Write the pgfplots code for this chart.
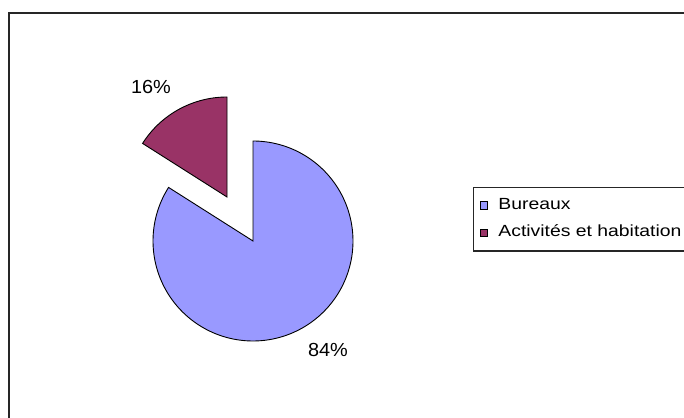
\documentclass[border=0pt]{standalone}
\usepackage{pgfplots}
\pgfplotsset{compat=1.18}
\usepackage{fontspec}
\setmainfont{Liberation Sans}
\definecolor{slicebureaux}{RGB}{153,153,255}
\definecolor{sliceactiv}{RGB}{153,51,102}
\pgfplotsset{sq legend/.style={legend image code/.code={\draw[##1, line width=0.8bp] (0bp,-3.75bp) rectangle (7.5bp,3.75bp);}}}
% data (percent)
\def\valBureaux{84}
\def\valActiv{16}
\begin{document}
\begin{tikzpicture}
\path[use as bounding box] (0,0) rectangle (684bp,418bp);
\clip (0,0) rectangle (684bp,418bp);
\pgfmathsetmacro\angB{90-3.6*\valBureaux}
\pgfmathsetmacro\angA{90+3.6*\valActiv}
\begin{axis}[
  at={(0,0)}, anchor=south west,
  scale only axis, width=684bp, height=418bp,
  xmin=0, xmax=684, ymin=0, ymax=418,
  hide axis, clip=false,
  legend style={at={(axis cs:473,231)}, anchor=north west,
    draw=black!85, line width=1.2bp, fill=white,
    inner xsep=6bp, inner ysep=10bp, row sep=11.4bp, column sep=10.5bp,
    nodes={inner sep=0pt, text height=12bp, text depth=4bp},
    font=\fontsize{16.2}{18}\selectfont},
  legend cell align=left,
]
\draw[black!85, line width=1.6bp] (axis cs:9,-10) -- (axis cs:9,405) -- (axis cs:700,405);
\addplot[fill=slicebureaux, draw=black, line width=0.9bp, domain=\angB:90, samples=160, variable=\t, sq legend]
  ({253+100*cos(\t)},{177+100*sin(\t)}) -- (axis cs:253,177) -- cycle;
\addlegendentry{\scalebox{1.2}[1]{Bureaux}}
\addplot[fill=sliceactiv, draw=black, line width=0.9bp, domain=90:\angA, samples=60, variable=\t, sq legend]
  ({227+100*cos(\t)},{221+100*sin(\t)}) -- (axis cs:227,221) -- cycle;
\addlegendentry{\scalebox{1.2}[1]{Activités et habitation}}
\node[font=\fontsize{19}{22}\selectfont] at (axis cs:151,331) {\scalebox{1.05}[1]{16\%}};
\node[font=\fontsize{19}{22}\selectfont] at (axis cs:328,68) {\scalebox{1.05}[1]{84\%}};
\end{axis}
\end{tikzpicture}
\end{document}
